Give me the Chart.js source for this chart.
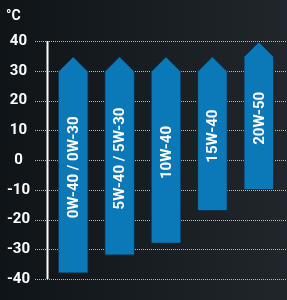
<!DOCTYPE html>
<html>
<head>
<meta charset="utf-8">
<script src="https://cdn.jsdelivr.net/npm/chart.js@4"></script>
<style>
  html, body { margin: 0; padding: 0; }
  body { width: 287px; height: 300px; background: linear-gradient(to right, #0f1418, #21262c); overflow: hidden; }
  #wrap { position: relative; width: 287px; height: 300px; }
</style>
</head>
<body>
<div id="wrap"><canvas id="oilChart"></canvas></div>
<script>
// Grados de viscosidad y rango de temperatura de cada uno
const grades = ['0W-40 / 0W-30', '5W-40 / 5W-30', '10W-40', '15W-40', '20W-50'];
const lowTemps = [-38, -32, -28, -17, -10];
const highTemps = [30, 30, 30, 30, 35];
const yTicks = [-40, -30, -20, -10, 0, 10, 20, 30, 40];
const unitLabel = '°C';

const barBlue = '#0b78b7';
const barEdge = '#0c2f47';
const fontFam = 'Roboto, "Noto Sans", sans-serif';

// Rejilla punteada, eje vertical, puntas de flecha y textos
const decor = {
  id: 'decor',
  beforeDatasetsDraw(chart) {
    const ctx = chart.ctx;
    const y = chart.scales.y;
    ctx.save();
    ctx.strokeStyle = 'rgba(215,215,215,0.85)';
    ctx.lineWidth = 1;
    ctx.setLineDash([1, 1]);
    yTicks.forEach(v => {
      const py = Math.round(y.getPixelForValue(v)) + 0.5;
      ctx.beginPath();
      ctx.moveTo(35, py);
      ctx.lineTo(chart.width, py);
      ctx.stroke();
    });
    ctx.setLineDash([]);
    ctx.strokeStyle = '#ffffff';
    ctx.lineWidth = 2;
    ctx.beginPath();
    ctx.moveTo(47.5, y.getPixelForValue(yTicks[yTicks.length - 1]));
    ctx.lineTo(47.5, y.getPixelForValue(yTicks[0]));
    ctx.stroke();
    ctx.restore();
  },
  afterDatasetsDraw(chart) {
    const ctx = chart.ctx;
    const meta = chart.getDatasetMeta(0);
    ctx.save();
    meta.data.forEach((bar, i) => {
      const p = bar.getProps(['x', 'y', 'base', 'width'], true);
      const half = p.width / 2;
      const top = Math.min(p.y, p.base);
      const bottom = Math.max(p.y, p.base);
      // punta de flecha (tapa también el borde superior del rectángulo)
      ctx.beginPath();
      ctx.moveTo(p.x - half + 1, top + 1.5);
      ctx.lineTo(p.x - half + 1, top);
      ctx.lineTo(p.x, top - 14);
      ctx.lineTo(p.x + half - 1, top);
      ctx.lineTo(p.x + half - 1, top + 1.5);
      ctx.closePath();
      ctx.fillStyle = barBlue;
      ctx.fill();
      ctx.beginPath();
      ctx.moveTo(p.x - half + 0.5, top + 0.5);
      ctx.lineTo(p.x, top - 14);
      ctx.lineTo(p.x + half - 0.5, top + 0.5);
      ctx.strokeStyle = barEdge;
      ctx.lineWidth = 1;
      ctx.stroke();
      // texto del grado
      ctx.save();
      ctx.translate(p.x + 1, (top + bottom) / 2 - 4.5);
      ctx.rotate(-Math.PI / 2);
      ctx.fillStyle = '#ffffff';
      ctx.font = 'bold 15px ' + fontFam;
      ctx.textAlign = 'center';
      ctx.textBaseline = 'middle';
      ctx.fillText(grades[i], 0, 0);
      ctx.restore();
    });
    ctx.fillStyle = '#ffffff';
    ctx.font = 'bold 14px ' + fontFam;
    ctx.textAlign = 'left';
    ctx.textBaseline = 'alphabetic';
    ctx.fillText(unitLabel, 6, 20);
    ctx.restore();
  }
};

const chart = new Chart(document.getElementById('oilChart'), {
  type: 'bar',
  data: {
    labels: grades,
    datasets: [{
      data: grades.map((g, i) => [lowTemps[i], highTemps[i]]),
      backgroundColor: barBlue,
      borderColor: barEdge,
      borderWidth: 1,
      borderSkipped: false,
      barThickness: 30
    }]
  },
  options: {
    responsive: true,
    maintainAspectRatio: false,
    animation: false,
    layout: { padding: { top: 41, bottom: 15, right: 5, left: 0 } },
    plugins: { legend: { display: false }, tooltip: { enabled: false } },
    scales: {
      x: { display: false },
      y: {
        min: -40,
        max: 40,
        afterFit(scale) { scale.width = 50; },
        afterBuildTicks(scale) { scale.ticks = yTicks.map(v => ({ value: v })); },
        grid: { display: false },
        border: { display: false },
        ticks: {
          color: '#ffffff',
          font: { family: fontFam, size: 15, weight: 'bold' },
          crossAlign: 'center',
          padding: 12
        }
      }
    }
  },
  plugins: [decor]
});
</script>
</body>
</html>
